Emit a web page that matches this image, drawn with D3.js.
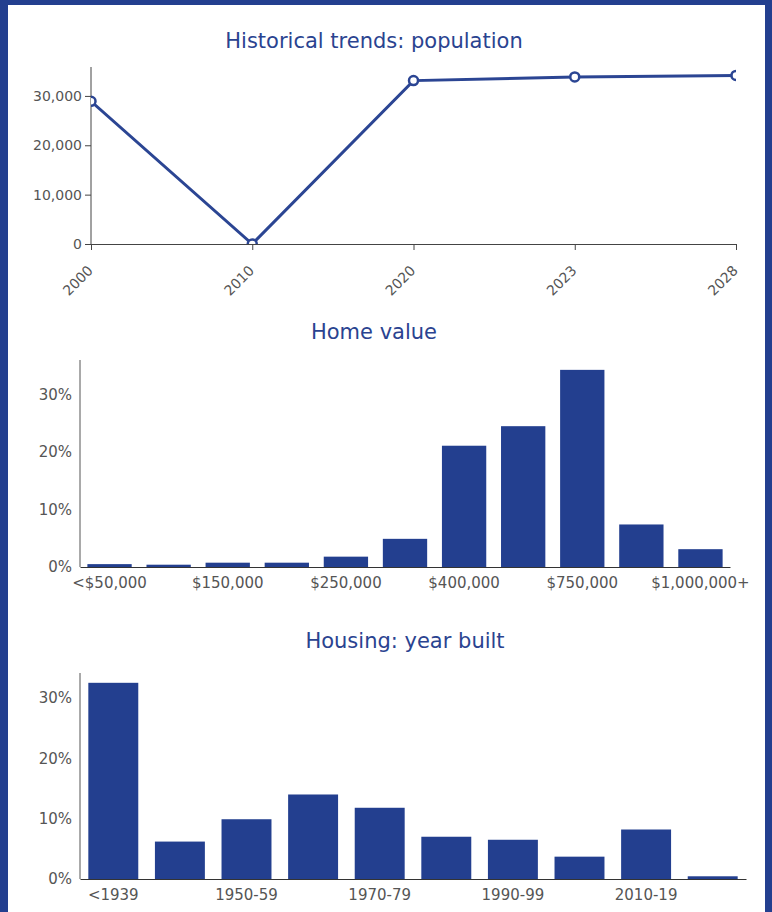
<!DOCTYPE html>
<html>
<head>
<meta charset="utf-8">
<script src="https://cdn.jsdelivr.net/npm/d3@7"></script>
<style>
  body { margin: 0; background: #233f8f; }
  svg { display: block; }
  .tick text { font-family: "DejaVu Sans", Verdana, sans-serif; font-size: 14px; fill: #555; }
  .bars .tick text { font-size: 15px; }
  .title { font-family: "DejaVu Sans", Verdana, sans-serif; font-size: 21px; fill: #2a4390; text-anchor: middle; }
</style>
</head>
<body>
<div id="chart"></div>
<script>
// Population data
var popYears = ["2000", "2010", "2020", "2023", "2028"];
var popValues = [28900, 0, 33100, 33850, 34150];

// Home value data
var homeCats = ["<$50,000", "$100,000", "$150,000", "$200,000", "$250,000", "$300,000",
  "$400,000", "$500,000", "$750,000", "$1,000,000", "$1,000,000+"];
var homeShares = [0.005, 0.004, 0.0075, 0.0075, 0.018, 0.049, 0.211, 0.245, 0.343, 0.074, 0.031];

// Year built data
var builtCats = ["<1939", "1940-49", "1950-59", "1960-69", "1970-79", "1980-89",
  "1990-99", "2000-09", "2010-19", "2020+"];
var builtShares = [0.325, 0.062, 0.099, 0.14, 0.118, 0.07, 0.065, 0.037, 0.082, 0.0045];

var svgWidth = 772;
var svgHeight = 912;
var barColor = "#233f8f";

var svg = d3.select("#chart")
  .append("svg")
  .attr("width", svgWidth)
  .attr("height", svgHeight);

// white card inside the blue frame
svg.append("rect")
  .attr("x", 8)
  .attr("y", 5)
  .attr("width", 757)
  .attr("height", svgHeight - 5)
  .attr("fill", "#fff");

// ---- Chart 1: line ----
var c1 = { left: 91, right: 736, top: 67, bottom: 244 };

svg.append("text")
  .attr("class", "title")
  .attr("x", 374)
  .attr("y", 48)
  .text("Historical trends: population");

var x1 = d3.scalePoint()
  .domain(popYears)
  .range([c1.left, c1.right]);

var y1 = d3.scaleLinear()
  .domain([0, d3.max(popValues) * 1.05])
  .range([c1.bottom, c1.top]);

var xAxis1 = svg.append("g")
  .attr("transform", `translate(0, ${c1.bottom})`)
  .call(d3.axisBottom(x1).tickSizeOuter(6));
xAxis1.selectAll("text")
  .attr("text-anchor", "end")
  .attr("transform", "translate(-11, 14) rotate(-45)");

svg.append("g")
  .attr("transform", `translate(${c1.left}, 0)`)
  .call(d3.axisLeft(y1).tickValues([0, 10000, 20000, 30000]).tickFormat(d3.format(",")).tickSizeOuter(0))
  .call(g => g.select(".domain").attr("d", `M0,${c1.top}V${c1.bottom}`));

svg.selectAll(".domain, .tick line").attr("stroke", "#444");

svg.append("clipPath")
  .attr("id", "clip1")
  .append("rect")
  .attr("x", c1.left)
  .attr("y", c1.top - 10)
  .attr("width", c1.right - c1.left)
  .attr("height", c1.bottom - c1.top + 10);

var plot1 = svg.append("g").attr("clip-path", "url(#clip1)");

var line = d3.line()
  .x((d, i) => x1(popYears[i]))
  .y(d => y1(d));

plot1.append("path")
  .datum(popValues)
  .attr("fill", "none")
  .attr("stroke", "#2b4593")
  .attr("stroke-width", 3)
  .attr("d", line);

plot1.selectAll("circle")
  .data(popValues)
  .enter()
  .append("circle")
  .attr("cx", (d, i) => x1(popYears[i]))
  .attr("cy", d => y1(d))
  .attr("r", 4.5)
  .attr("fill", "#fff")
  .attr("stroke", "#2b4593")
  .attr("stroke-width", 2.5);

// ---- bar chart helper ----
function barChart(cats, vals, box, title, titleX, titleY) {
  var g = svg.append("g").attr("class", "bars");

  g.append("text")
    .attr("class", "title")
    .attr("x", titleX)
    .attr("y", titleY)
    .text(title);

  var x = d3.scaleBand()
    .domain(cats)
    .range([box.left, box.right])
    .paddingInner(0.25)
    .paddingOuter(0.125);

  var y = d3.scaleLinear()
    .domain([0, d3.max(vals) * 1.05])
    .range([box.bottom, box.top]);

  g.selectAll("rect")
    .data(vals)
    .enter()
    .append("rect")
    .attr("x", (d, i) => x(cats[i]))
    .attr("y", d => y(d))
    .attr("width", x.bandwidth())
    .attr("height", d => box.bottom - y(d))
    .attr("fill", barColor);

  var xa = g.append("g")
    .attr("transform", `translate(0, ${box.bottom})`)
    .call(d3.axisBottom(x).tickValues(cats.filter((d, i) => i % 2 === 0)).tickSize(0).tickPadding(10));

  var ya = g.append("g")
    .attr("transform", `translate(${box.left}, 0)`)
    .call(d3.axisLeft(y).tickValues([0, 0.1, 0.2, 0.3]).tickFormat(d3.format(".0%")).tickSize(0).tickPadding(8))
    .call(a => a.select(".domain").attr("d", `M0,${box.top}V${box.bottom}`));

  xa.select(".domain").attr("stroke", "#333");
  ya.select(".domain").attr("stroke", "#555");
}

barChart(homeCats, homeShares, { left: 80, right: 730, top: 360, bottom: 567 }, "Home value", 374, 339);
barChart(builtCats, builtShares, { left: 80, right: 746, top: 673, bottom: 879 }, "Housing: year built", 405, 648);
</script>
</body>
</html>
